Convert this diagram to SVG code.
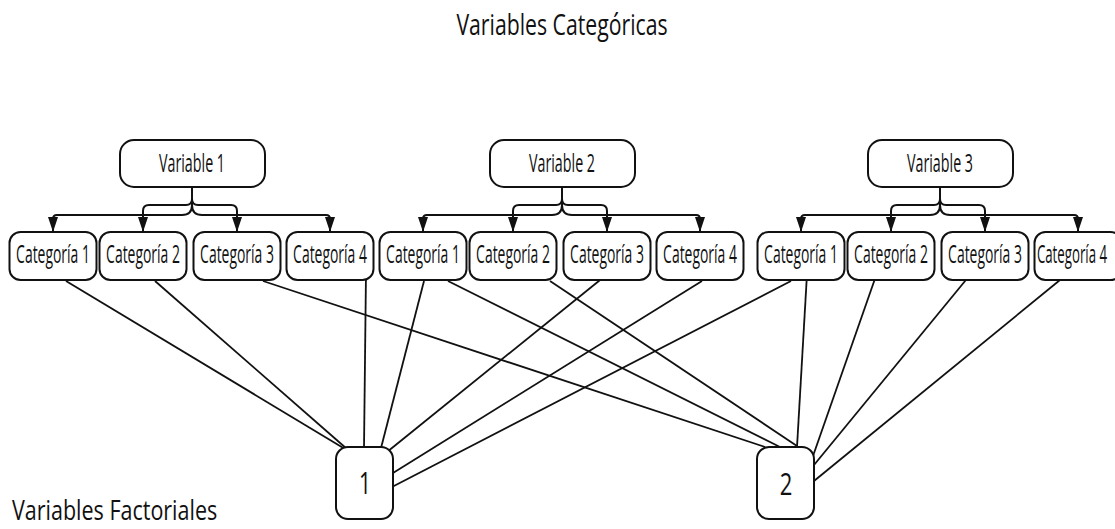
<svg xmlns="http://www.w3.org/2000/svg" width="1115" height="529" viewBox="0 0 1115 529">
<style>
.box{fill:#fff;stroke:#111;stroke-width:2}
.t{font-family:"Open Sans","Liberation Sans",sans-serif;fill:#111;text-anchor:middle}
.cat{font-size:26px}
.var{font-size:25px}
.ln{stroke:#111;stroke-width:1.8;fill:none}
.el{stroke:#111;stroke-width:2;fill:none;marker-end:url(#ah)}
</style>
<defs>
<marker id="ah" viewBox="0 0 15 10" refX="15" refY="5" markerWidth="15" markerHeight="10" markerUnits="userSpaceOnUse" orient="auto">
<path d="M0,0 L15,5 L0,10 z" fill="#111"/>
</marker>
</defs>
<rect width="1115" height="529" fill="#fff"/>
<text class="t" transform="translate(562,35) scale(0.6,1)" font-size="29" textLength="352" lengthAdjust="spacingAndGlyphs">Variables Categóricas</text>
<text class="t" transform="translate(12,520) scale(0.6,1)" font-size="28" textLength="342" lengthAdjust="spacingAndGlyphs" style="text-anchor:start">Variables Factoriales</text>

<g id="connectors">
<path class="el" d="M192,187 V199 Q192,205 186,205 H149 Q143,205 143,211 V232"/>
<path class="el" d="M192,187 V199 Q192,205 198,205 H231 Q237,205 237,211 V232"/>
<path class="el" d="M192,187 V205 Q192,215 182,215 H57 Q53,215 53,219 V232"/>
<path class="el" d="M192,187 V205 Q192,215 202,215 H326 Q330,215 330,219 V232"/>

<path class="el" d="M562,187 V199 Q562,205 556,205 H519 Q513,205 513,211 V232"/>
<path class="el" d="M562,187 V199 Q562,205 568,205 H601 Q607,205 607,211 V232"/>
<path class="el" d="M562,187 V205 Q562,215 552,215 H427 Q423,215 423,219 V232"/>
<path class="el" d="M562,187 V205 Q562,215 572,215 H696 Q700,215 700,219 V232"/>

<path class="el" d="M940,187 V199 Q940,205 934,205 H897 Q891,205 891,211 V232"/>
<path class="el" d="M940,187 V199 Q940,205 946,205 H979 Q985,205 985,211 V232"/>
<path class="el" d="M940,187 V205 Q940,215 930,215 H805 Q801,215 801,219 V232"/>
<path class="el" d="M940,187 V205 Q940,215 950,215 H1074 Q1078,215 1078,219 V232"/>

<line class="ln" x1="66" y1="281" x2="345" y2="449"/>
<line class="ln" x1="155" y1="281" x2="347" y2="449"/>
<line class="ln" x1="366" y1="272" x2="364" y2="448"/>
<line class="ln" x1="424" y1="281" x2="381" y2="448"/>
<line class="ln" x1="610" y1="272" x2="387" y2="452"/>
<line class="ln" x1="702" y1="281" x2="393" y2="473"/>
<line class="ln" x1="791" y1="281" x2="390" y2="488"/>
<line class="ln" x1="263" y1="281" x2="765" y2="447"/>
<line class="ln" x1="448" y1="281" x2="780" y2="447"/>
<line class="ln" x1="550" y1="281" x2="797" y2="446"/>
<line class="ln" x1="807" y1="274" x2="797" y2="447"/>
<line class="ln" x1="877" y1="273" x2="813" y2="456"/>
<line class="ln" x1="970" y1="275" x2="814" y2="465"/>
<line class="ln" x1="1060" y1="280" x2="814" y2="481"/>
</g>

<g id="var1"><rect class="box" x="120" y="140" width="145" height="47" rx="14"/><text class="t var" transform="translate(192,172) scale(0.6,1)" textLength="110" lengthAdjust="spacingAndGlyphs">Variable 1</text></g>
<g id="var2"><rect class="box" x="490" y="140" width="145" height="47" rx="14"/><text class="t var" transform="translate(562,172) scale(0.6,1)" textLength="110" lengthAdjust="spacingAndGlyphs">Variable 2</text></g>
<g id="var3"><rect class="box" x="868" y="140" width="145" height="47" rx="14"/><text class="t var" transform="translate(940,172) scale(0.6,1)" textLength="110" lengthAdjust="spacingAndGlyphs">Variable 3</text></g>

<g id="g1c1"><rect class="box" x="9.5" y="232" width="87" height="48" rx="11"/><text class="t cat" transform="translate(53,263) scale(0.6,1)" textLength="123" lengthAdjust="spacingAndGlyphs">Categoría 1</text></g>
<g id="g1c2"><rect class="box" x="99.5" y="232" width="87" height="48" rx="11"/><text class="t cat" transform="translate(143,263) scale(0.6,1)" textLength="123" lengthAdjust="spacingAndGlyphs">Categoría 2</text></g>
<g id="g1c3"><rect class="box" x="193.5" y="232" width="87" height="48" rx="11"/><text class="t cat" transform="translate(237,263) scale(0.6,1)" textLength="123" lengthAdjust="spacingAndGlyphs">Categoría 3</text></g>
<g id="g1c4"><rect class="box" x="286.5" y="232" width="87" height="48" rx="11"/><text class="t cat" transform="translate(330,263) scale(0.6,1)" textLength="123" lengthAdjust="spacingAndGlyphs">Categoría 4</text></g>

<g id="g2c1"><rect class="box" x="379.5" y="232" width="87" height="48" rx="11"/><text class="t cat" transform="translate(423,263) scale(0.6,1)" textLength="123" lengthAdjust="spacingAndGlyphs">Categoría 1</text></g>
<g id="g2c2"><rect class="box" x="469.5" y="232" width="87" height="48" rx="11"/><text class="t cat" transform="translate(513,263) scale(0.6,1)" textLength="123" lengthAdjust="spacingAndGlyphs">Categoría 2</text></g>
<g id="g2c3"><rect class="box" x="563.5" y="232" width="87" height="48" rx="11"/><text class="t cat" transform="translate(607,263) scale(0.6,1)" textLength="123" lengthAdjust="spacingAndGlyphs">Categoría 3</text></g>
<g id="g2c4"><rect class="box" x="656.5" y="232" width="87" height="48" rx="11"/><text class="t cat" transform="translate(700,263) scale(0.6,1)" textLength="123" lengthAdjust="spacingAndGlyphs">Categoría 4</text></g>

<g id="g3c1"><rect class="box" x="757.5" y="232" width="87" height="48" rx="11"/><text class="t cat" transform="translate(801,263) scale(0.6,1)" textLength="123" lengthAdjust="spacingAndGlyphs">Categoría 1</text></g>
<g id="g3c2"><rect class="box" x="847.5" y="232" width="87" height="48" rx="11"/><text class="t cat" transform="translate(891,263) scale(0.6,1)" textLength="123" lengthAdjust="spacingAndGlyphs">Categoría 2</text></g>
<g id="g3c3"><rect class="box" x="941.5" y="232" width="87" height="48" rx="11"/><text class="t cat" transform="translate(985,263) scale(0.6,1)" textLength="123" lengthAdjust="spacingAndGlyphs">Categoría 3</text></g>
<g id="g3c4"><rect class="box" x="1034.5" y="232" width="87" height="48" rx="11"/><text class="t cat" transform="translate(1072,263) scale(0.6,1)" font-size="25" textLength="117" lengthAdjust="spacingAndGlyphs">Categoría 4</text></g>

<g id="f1"><rect class="box" x="336" y="447" width="57" height="72" rx="12"/><text class="t" transform="translate(365,494) scale(0.6,1)" font-size="31" textLength="20" lengthAdjust="spacingAndGlyphs">1</text></g>
<g id="f2"><rect class="box" x="757" y="447" width="57" height="72" rx="12"/><text class="t" transform="translate(786,495) scale(0.6,1)" font-size="31" textLength="21" lengthAdjust="spacingAndGlyphs">2</text></g>
</svg>
